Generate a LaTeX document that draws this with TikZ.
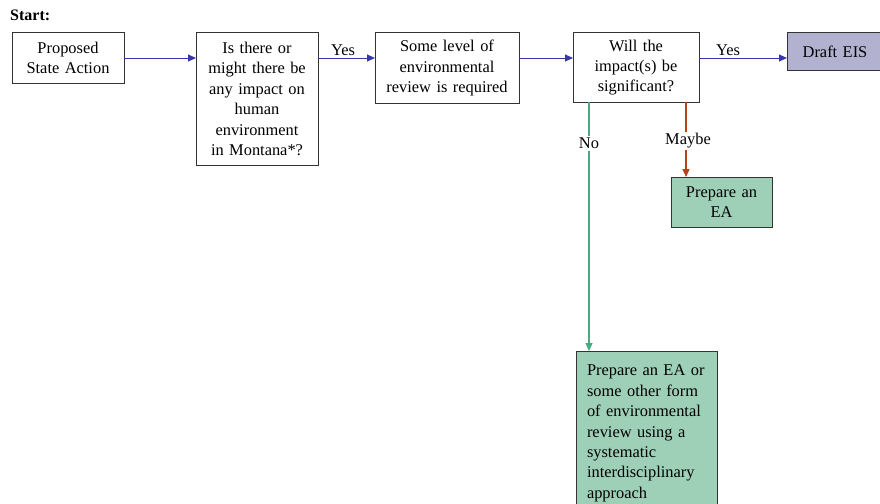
\documentclass[tikz,border=0pt]{standalone}
\usepackage{fontspec}
\setmainfont{Liberation Serif}
\usetikzlibrary{positioning,arrows.meta}
\definecolor{flowblue}{RGB}{55,55,165}
\definecolor{noteal}{RGB}{70,170,130}
\definecolor{maybered}{RGB}{185,65,25}
\definecolor{eagreen}{RGB}{158,208,184}
\definecolor{eislilac}{RGB}{178,178,208}
\tikzstyle{stepbox} = [rectangle, draw=black!80, line width=1pt, fill=white, align=center, inner sep=2pt, outer sep=0pt, font=\fontsize{16.4}{20.4}\selectfont]
\tikzstyle{flow} = [draw=flowblue, line width=0.9pt, -{Triangle[length=8pt,width=7pt]}]
\tikzstyle{lbl} = [font=\fontsize{16.4}{18}\selectfont, inner sep=2pt]

\begin{document}
\begin{tikzpicture}[x=1pt, y=-1pt]
\useasboundingbox (0,0) rectangle (880,503);

% Define nodes
\node[lbl, anchor=west, font=\fontsize{16}{18}\selectfont\bfseries] (start) at (8,15) {Start:};

\node[stepbox, anchor=north west, minimum width=112pt, minimum height=50pt, text width=108pt] (act) at (12,33) {Proposed\\State Action};
\node[stepbox, right=72pt of act.north east, anchor=north west, minimum width=122pt, minimum height=132pt, text width=118pt] (q) {Is there or\\might there be\\any impact on\\human\\environment\\in Montana*?};
\node[stepbox, right=57pt of q.north east, anchor=north west, minimum width=144pt, minimum height=70pt, text width=140pt] (req) {Some level of\\environmental\\review is required};
\node[stepbox, right=54pt of req.north east, anchor=north west, minimum width=126pt, minimum height=69pt, text width=122pt] (sig) {Will the\\impact(s) be\\significant?};
\node[stepbox, right=88pt of sig.north east, anchor=north west, fill=eislilac, minimum width=96pt, minimum height=37pt, text width=92pt] (eis) {Draft EIS};

\node[stepbox, below=75pt of sig.south west, anchor=north west, xshift=98pt, fill=eagreen, minimum width=101pt, minimum height=50pt, text width=97pt] (ea) {Prepare an\\EA};
\node[stepbox, below=249pt of sig.south west, anchor=north west, xshift=3pt, fill=eagreen, align=left, inner xsep=11pt, inner ysep=14pt, text width=119pt] (other) {Prepare an EA or\\some other form\\of environmental\\review using a\\systematic\\interdisciplinary\\approach};

% Edges
\draw[flow] (act) -- (act -| q.west);
\draw[flow] (q.east |- act) -- node[lbl, above, pos=.44] {Yes} (req.west |- act);
\draw[flow] (req.east |- act) -- (sig.west |- act);
\draw[flow] (sig.east |- act) -- node[lbl, above, pos=.33] {Yes} (eis.west |- act);

\coordinate (nostart) at ([xshift=16pt]sig.south west);
\coordinate (maybestart) at ([xshift=-13pt]sig.south east);
\draw[flow, draw=noteal, line width=1.2pt] (nostart) -- node[lbl, fill=white, pos=.165] {No} (nostart |- other.north);
\draw[flow, draw=maybered, line width=1.2pt] (maybestart) -- node[lbl, fill=white, pos=.52, xshift=2pt] {Maybe} (maybestart |- ea.north);
\end{tikzpicture}
\end{document}
